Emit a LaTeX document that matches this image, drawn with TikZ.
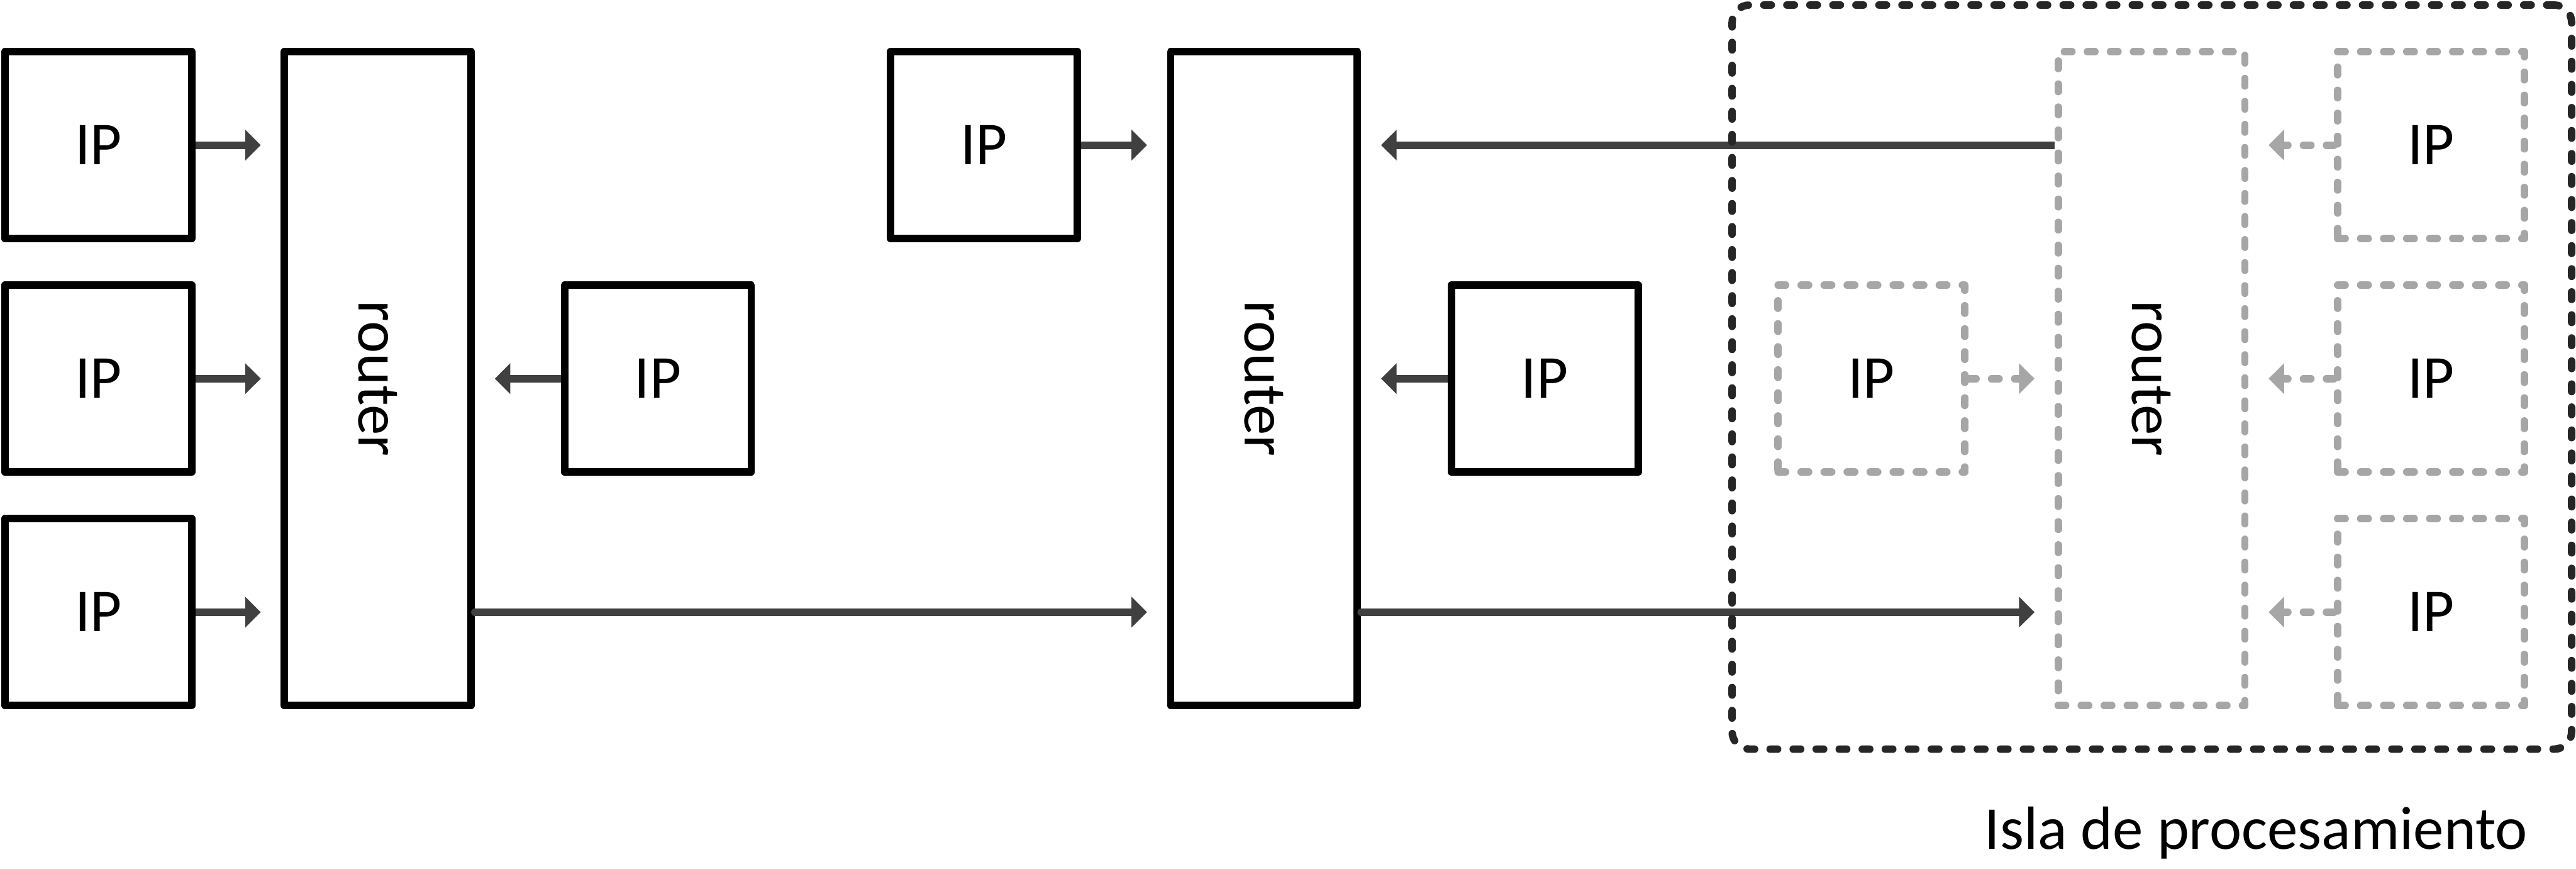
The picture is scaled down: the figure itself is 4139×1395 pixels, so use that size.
\documentclass[tikz,border=0pt]{standalone}
\usepackage{fontspec}
\setmainfont{Carlito}
\usetikzlibrary{arrows.meta}
\definecolor{arr}{HTML}{404040}
\definecolor{gry}{HTML}{A6A6A6}
\definecolor{isl}{HTML}{262626}
\begin{document}
\begin{tikzpicture}[x=0.1pt,y=-0.1pt,
  font=\fontsize{9.8pt}{11pt}\selectfont,
  ipbox/.style={draw=black,line width=1.2pt,minimum width=30pt,minimum height=30pt,inner sep=0pt,line join=round},
  rtbox/.style={draw=black,line width=1.2pt,minimum width=30pt,minimum height=105pt,inner sep=0pt,line join=round},
  ghost/.style={draw=gry,dash pattern=on 1.2pt off 2.5pt,line cap=round},
  conn/.style={draw=arr,line width=1.2pt,-{Triangle[length=2.5pt,width=4.8pt]},shorten >=3.2pt},
  gconn/.style={draw=gry,line width=1.2pt,dash pattern=on 1.2pt off 2.5pt,line cap=round,-{Triangle[length=2.5pt,width=4.8pt]},shorten >=3.2pt},
  rlabel/.style={rotate=-90,inner sep=0pt}
]
\useasboundingbox (0,0) rectangle (4139,1395);

% left group
\node[ipbox] (L1) at (158,233) {IP};
\node[ipbox] (L2) at (158,608) {IP};
\node[ipbox] (L3) at (158,983) {IP};
\node[rtbox] (R1) at (607,608) {};
\node[rlabel] (R1t) at (R1) {router};
\node[ipbox] (M1) at (1057,608) {IP};

% middle group
\node[ipbox] (T2) at (1581,233) {IP};
\node[rtbox] (R2) at (2031,608) {};
\node[rlabel] (R2t) at (R2) {router};
\node[ipbox] (M2) at (2482,608) {IP};

% island
\node[ipbox,ghost] (G1) at (3007,608) {IP};
\node[rtbox,ghost] (R3) at (3457,608) {};
\node[rlabel] (R3t) at (R3) {router};
\node[ipbox,ghost] (G2) at (3906,233) {IP};
\node[ipbox,ghost] (G3) at (3906,608) {IP};
\node[ipbox,ghost] (G4) at (3906,983) {IP};

% connectors
\draw[conn] (L1.east) -- (L1.east -| R1.west);
\draw[conn] (L2.east) -- (L2.east -| R1.west);
\draw[conn] (L3.east) -- (L3.east -| R1.west);
\draw[conn] (M1.west) -- (M1.west -| R1.east);
\draw[conn,line cap=round] (R1.east |- L3.east) -- (R2.west |- L3.east);
\draw[conn] (T2.east) -- (T2.east -| R2.west);
\draw[conn] (M2.west) -- (M2.west -| R2.east);
\draw[conn] (R3.west |- G2.west) -- (R2.east |- G2.west);
\draw[conn,line cap=round] (R2.east |- G4.west) -- (R3.west |- G4.west);
\draw[gconn] (G1.east) -- (G1.east -| R3.west);
\draw[gconn] (G2.west) -- (G2.west -| R3.east);
\draw[gconn] (G3.west) -- (G3.west -| R3.east);
\draw[gconn] (G4.west) -- (G4.west -| R3.east);

% island frame and caption
\node[draw=isl,line width=1.2pt,dash pattern=on 1.2pt off 2.5pt,line cap=round,rounded corners=2.8pt,minimum width=134.9pt,minimum height=119.5pt,inner sep=0pt] (isla) at (3457.5,605.5) {};
\node[anchor=base,inner sep=0pt] (islt) at (3625,1364) {Isla de procesamiento};
\end{tikzpicture}
\end{document}
